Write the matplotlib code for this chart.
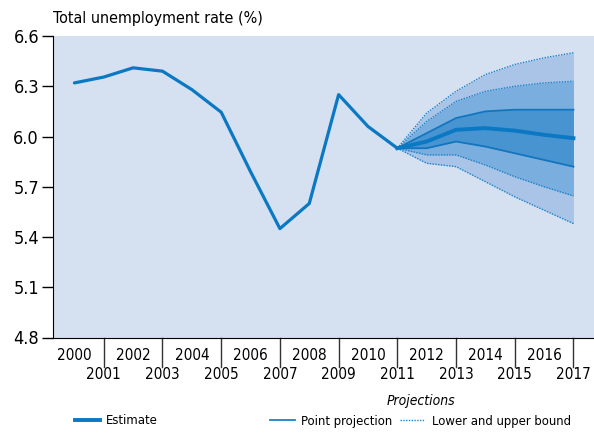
import matplotlib
matplotlib.use('Agg')
import matplotlib.pyplot as plt
from matplotlib.lines import Line2D

# Estimate, 2000-2011
years = [2000, 2001, 2002, 2003, 2004, 2005, 2006, 2007, 2008, 2009, 2010, 2011]
estimate = [6.32, 6.355, 6.41, 6.39, 6.28, 6.145, 5.79, 5.45, 5.60, 6.25, 6.06, 5.93]

# Projections, 2011-2017
proj_years = [2011, 2012, 2013, 2014, 2015, 2016, 2017]
point_proj = [5.93, 5.97, 6.04, 6.05, 6.035, 6.01, 5.99]
inner_hi = [5.93, 6.02, 6.11, 6.15, 6.16, 6.16, 6.16]
inner_lo = [5.93, 5.93, 5.97, 5.94, 5.90, 5.86, 5.82]
mid_hi = [5.93, 6.09, 6.21, 6.27, 6.30, 6.32, 6.33]
mid_lo = [5.93, 5.89, 5.89, 5.83, 5.76, 5.70, 5.645]
outer_hi = [5.93, 6.14, 6.27, 6.37, 6.43, 6.47, 6.50]
outer_lo = [5.93, 5.84, 5.82, 5.73, 5.64, 5.56, 5.48]

yticks = [4.8, 5.1, 5.4, 5.7, 6.0, 6.3, 6.6]

LINE = '#0a78c2'
PANEL = '#d5e0f1'

plt.rcParams['font.family'] = ['DejaVu Sans']
plt.rcParams['font.stretch'] = 'condensed'

fig = plt.figure(figsize=(5.94, 4.33), dpi=100)
ax = fig.add_axes([53 / 594, 1 - 337.5 / 433, (594 - 53) / 594, (337.5 - 36) / 433])
ax.set_facecolor(PANEL)

ax.fill_between(proj_years, outer_lo, outer_hi, color='#a9c4e7', lw=0)
ax.fill_between(proj_years, mid_lo, mid_hi, color='#7aaedf', lw=0)
ax.fill_between(proj_years, inner_lo, inner_hi, color='#4794d1', lw=0)

for s in (outer_hi, outer_lo, mid_hi, mid_lo):
    ax.plot(proj_years, s, color='#1a82c8', lw=1.0, ls=(0, (1.0, 1.0)))
for s in (inner_hi, inner_lo):
    ax.plot(proj_years, s, color='#1275be', lw=1.3)
ax.plot(proj_years, point_proj, color=LINE, lw=2.8)
ax.plot(years, estimate, color=LINE, lw=2.3, solid_capstyle='round', solid_joinstyle='round')

ax.set_xlim(1999.27, 2017.7)
ax.set_ylim(4.8, 6.6)
ax.set_yticks(yticks)
ax.set_yticklabels([f'{v:.1f}' for v in yticks], fontsize=13)
ax.tick_params(axis='y', length=8, width=1, pad=2)
for s in ('top', 'right'):
    ax.spines[s].set_visible(False)

# staggered year labels, separators at odd years
ax.set_xticks([])
xt = ax.get_xaxis_transform()
for y in range(2000, 2018):
    if y % 2 == 0:
        ax.text(y, -0.035, str(y), transform=xt, ha='center', va='top', fontsize=11)
    else:
        ax.text(y, -0.098, str(y), transform=xt, ha='center', va='top', fontsize=11)
        ax.plot([y, y], [0, -0.098], transform=xt, color='#333333', lw=1, clip_on=False)

fig.text(53 / 594, 1 - 18 / 433, 'Total unemployment rate (%)', fontsize=11.5, va='center', ha='left')

fig.text(421 / 594, 1 - 401 / 433, 'Projections', fontsize=10, style='italic', ha='center', va='center')
fig.legend(handles=[Line2D([], [], color=LINE, lw=2.8)], labels=['Estimate'],
           loc='center left', bbox_to_anchor=(75 / 594, 1 - 421 / 433), frameon=False,
           borderpad=0, borderaxespad=0, fontsize=9.4, handlelength=1.9, handletextpad=0.5)
fig.legend(handles=[Line2D([], [], color='#1a82c8', lw=1.3),
                    Line2D([], [], color='#1a82c8', lw=1.0, ls=(0, (1.0, 1.0)))],
           labels=['Point projection', 'Lower and upper bound'],
           loc='center left', bbox_to_anchor=(270 / 594, 1 - 421 / 433), frameon=False,
           borderpad=0, borderaxespad=0, fontsize=9.4, handlelength=1.9, handletextpad=0.5,
           ncol=2, columnspacing=0.6)

fig.savefig('out.png', dpi=100)
